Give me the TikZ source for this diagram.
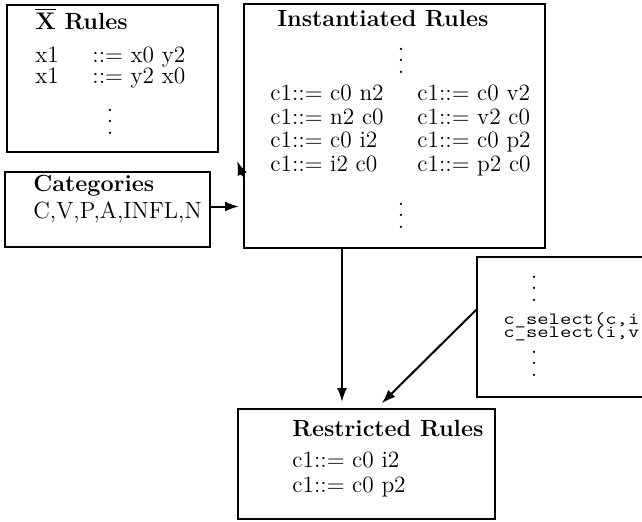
\documentclass[tikz,border=0pt]{standalone}
\usetikzlibrary{arrows.meta}
% three stacked dots with a wider pitch than \vdots
\newcommand\vdts{\vbox{\baselineskip5.6pt\lineskiplimit0pt\hbox{.}\hbox{.}\hbox{.}}}
\begin{document}
\begin{tikzpicture}[x=0.5pt,y=-0.5pt,
  box/.style={draw, line width=1pt, inner sep=0pt, outer sep=0pt},
  rule/.style={anchor=base west, inner sep=0pt, font=\fontsize{11.7}{14}\selectfont},
  ttl/.style={rule, font=\fontsize{11.7}{14}\selectfont\bfseries},
  sel/.style={anchor=base west, inner sep=0pt, font=\fontsize{11}{13}\selectfont\ttfamily},
  dts/.style={anchor=base, inner sep=0pt, font=\fontsize{11.7}{14}\selectfont},
  arr/.style={line width=1pt, -{Latex[length=7pt,width=5pt]}}]
\useasboundingbox (0,0) rectangle (642,521);

% boxes
\node[box, minimum width=105.5pt, minimum height=73.5pt] (xr) at (112.5,78.5) {};
\node[box, minimum width=150.5pt, minimum height=122pt] (inst) at (394.5,126) {};
\node[box, minimum width=102.5pt, minimum height=37.5pt] (cat) at (107.5,209.5) {};
\node[box, minimum width=101.5pt, minimum height=70pt] (selb) at (578.5,327) {};
\node[box, minimum width=128.5pt, minimum height=55pt] (rr) at (366.5,464) {};

% X-bar rules
\node[ttl] (xrt) at (35,29) {$\overline{\mathbf{X}}$ Rules};
\node[rule] (xa1) at (35,62) {x1};
\node[rule] (xa2) at (92,62) {::= x0 y2};
\node[rule] (xb1) at (35,83) {x1};
\node[rule] (xb2) at (92,83) {::= y2 x0};
\node[dts] (xd) at (110,134) {\vdts};

% instantiated rules
\node[ttl] (it) at (277,26) {Instantiated Rules};
\node[dts] (id1) at (401,73) {\vdts};
\node[rule] (i1) at (270,100) {c1::= c0 n2};
\node[rule] (i2) at (270,124) {c1::= n2 c0};
\node[rule] (i3) at (270,147) {c1::= c0 i2};
\node[rule] (i4) at (270,171) {c1::= i2 c0};
\node[rule] (j1) at (417,100) {c1::= c0 v2};
\node[rule] (j2) at (417,124) {c1::= v2 c0};
\node[rule] (j3) at (417,147) {c1::= c0 p2};
\node[rule] (j4) at (417,171) {c1::= p2 c0};
\node[dts] (id2) at (401,228) {\vdts};

% categories
\node[ttl] (ct) at (33,191) {Categories};
\node[rule] (cl) at (33,218) {C,V,P,A,INFL,N};

% selection facts
\node[dts] (sd1) at (534,301) {\vdts};
\node[sel] (s1) at (503,324) {\scalebox{1}[0.78]{c\_select(c,i}};
\node[sel] (s2) at (503,337) {\scalebox{1}[0.78]{c\_select(i,v}};
\node[dts] (sd2) at (534,376) {\vdts};

% restricted rules
\node[ttl] (rt) at (292,436) {Restricted Rules};
\node[rule] (r1) at (292,467) {c1::= c0 i2};
\node[rule] (r2) at (292,492) {c1::= c0 p2};

% connectors
\coordinate (vx) at (342,0);
\coordinate (dx) at (376,0);
\coordinate (st) at (243,176);
\coordinate (sh) at (237,161);
\draw[arr, shorten >=2.5pt] ([yshift=1.5pt]cat.east) -- ([yshift=1.5pt]cat.east -| inst.west);
\draw[arr, shorten >=3.5pt] (inst.south -| vx) -- (rr.north -| vx);
\draw[arr, shorten >=4pt] ([yshift=9pt]selb.west) -- (rr.north -| dx);
\draw[arr] (st) -- (sh);
\end{tikzpicture}
\end{document}
